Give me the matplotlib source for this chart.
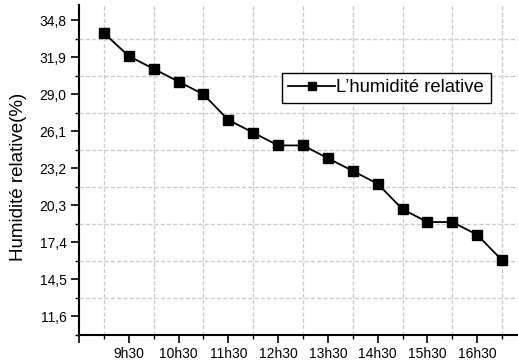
import matplotlib
matplotlib.use("Agg")
import matplotlib.pyplot as plt
from matplotlib.ticker import FixedLocator, FixedFormatter

hours = [9.0, 9.5, 10.0, 10.5, 11.0, 11.5, 12.0, 12.5, 13.0, 13.5, 14.0, 14.5, 15.0, 15.5, 16.0, 16.5, 17.0]
humidity = [33.8, 32.0, 31.0, 30.0, 29.0, 27.0, 26.0, 25.0, 25.0, 24.0, 23.0, 22.0, 20.0, 19.0, 19.0, 18.0, 16.0]
xtick_pos = [8.5, 9.5, 10.5, 11.5, 12.5, 13.5, 14.5, 15.5, 16.5]
xtick_labels = ["", "9h30", "10h30", "11h30", "12h30", "13h30", "14h30", "15h30", "16h30"]
ytick_vals = [11.6, 14.5, 17.4, 20.3, 23.2, 26.1, 29.0, 31.9, 34.8]
ytick_labels = ["11,6", "14,5", "17,4", "20,3", "23,2", "26,1", "29,0", "31,9", "34,8"]

plt.rcParams['font.family'] = ['Liberation Sans', 'DejaVu Sans']

fig = plt.figure(figsize=(5.18, 3.62), dpi=100)
ax = fig.add_axes([79/518, 27/362, 1 - 79/518, (335 - 5)/362])

ax.plot(hours, humidity, color='black', lw=1.3, marker='s', ms=7,
        markerfacecolor='black', markeredgecolor='black', label="L’humidité relative", zorder=3)

ax.set_xlim(8.5, 17.32)
ax.set_ylim(10.15, 36.0)

ax.xaxis.set_major_locator(FixedLocator(xtick_pos))
ax.xaxis.set_major_formatter(FixedFormatter(xtick_labels))
ax.xaxis.set_minor_locator(FixedLocator([h + 0.5 for h in xtick_pos]))
ax.yaxis.set_major_locator(FixedLocator(ytick_vals))
ax.yaxis.set_major_formatter(FixedFormatter(ytick_labels))
ax.yaxis.set_minor_locator(FixedLocator([v + 1.45 for v in ytick_vals] + [10.15]))

ax.tick_params(which='major', direction='out', length=6, width=1.2, labelsize=10, pad=3)
ax.tick_params(which='minor', direction='out', length=3, width=1.0)
ax.grid(which='minor', color='#cccccc', linestyle='--', linewidth=1.0, dashes=(3, 1.5))
ax.set_axisbelow(True)

for s in ['top', 'right']:
    ax.spines[s].set_visible(False)
for s in ['left', 'bottom']:
    ax.spines[s].set_linewidth(1.5)

ax.set_ylabel("Humidité relative(%)", fontsize=13.5, labelpad=6)
ax.yaxis.set_label_coords(-0.119, (335 - 177) / 330)

leg = ax.legend(loc='upper left', bbox_to_anchor=((282 - 79) / 439, (335 - 73) / 330),
                fontsize=13.3, frameon=True, fancybox=False, framealpha=1,
                edgecolor='black', handlelength=2.5, handletextpad=0.1,
                borderpad=0.35, borderaxespad=0, markerscale=0.75)
leg.get_frame().set_linewidth(1.0)

fig.savefig("out.png", dpi=100)
